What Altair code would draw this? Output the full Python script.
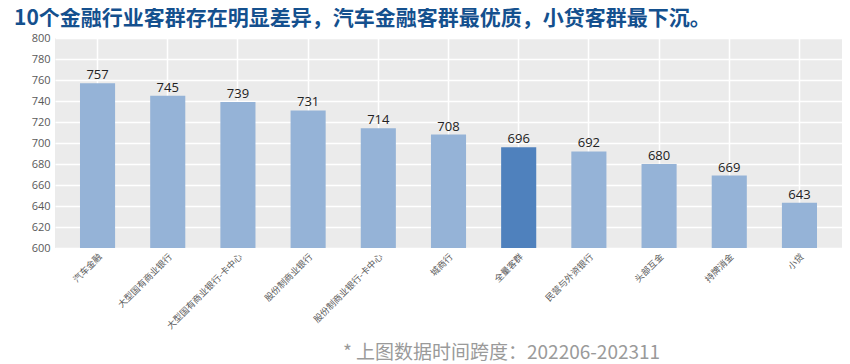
import altair as alt
import pandas as pd

categories = ["汽车金融", "大型国有商业银行", "大型国有商业银行-卡中心", "股份制商业银行",
              "股份制商业银行-卡中心", "城商行", "全量客群", "民营与外资银行",
              "头部互金", "持牌消金", "小贷"]
values = [757, 745, 739, 731, 714, 708, 696, 692, 680, 669, 643]
highlight = ["全量客群"]
y_ticks = [600, 620, 640, 660, 680, 700, 720, 740, 760, 780, 800]
title_text = "10个金融行业客群存在明显差异，汽车金融客群最优质，小贷客群最下沉。"
footer_text = "* 上图数据时间跨度：202206-202311"

df = pd.DataFrame({"cat": categories, "val": values,
                   "hl": ["yes" if c in highlight else "no" for c in categories]})

x_axis = alt.Axis(title=footer_text, labelAngle=-45, labelFontSize=9,
                  labelFont="Noto Sans CJK SC", labelColor="#595959",
                  labelPadding=4, domain=False, ticks=False, labelOverlap=False,
                  grid=True, bandPosition=0.5, gridColor="white", gridWidth=1.5,
                  titleX=446, titleY=104, titleAlign="center",
                  titleBaseline="middle", titleFontSize=19,
                  titleFont="Noto Sans CJK SC", titleFontWeight="normal",
                  titleColor="#9a9a9a")
x_scale = alt.Scale(paddingInner=0.5, paddingOuter=0.356)

y_axis = alt.Axis(title=None, values=y_ticks, labelFontSize=11,
                  labelFont="Open Sans", labelColor="#595959", labelPadding=5,
                  labelOverlap=False, domain=False, ticks=False,
                  gridColor="white", gridWidth=1.5)
y_scale = alt.Scale(domain=[600, 800], zero=False, nice=False)

bars = alt.Chart(df).mark_bar(clip=True).encode(
    x=alt.X("cat:N", sort=categories, scale=x_scale, axis=x_axis),
    y=alt.Y("val:Q", scale=y_scale, axis=y_axis),
    y2=alt.datum(600),
    color=alt.Color("hl:N", scale=alt.Scale(domain=["no", "yes"], range=["#95B3D7", "#4F81BD"]),
                    legend=None),
)

labels = alt.Chart(df).mark_text(dy=-8, fontSize=13, font="Open Sans", color="#222222").encode(
    x=alt.X("cat:N", sort=categories, scale=x_scale, axis=x_axis),
    y=alt.Y("val:Q", scale=y_scale, axis=y_axis),
    text=alt.Text("val:Q"),
)

chart = (bars + labels).properties(
    width=787, height=210,
    autosize=alt.AutoSizeParams(type="none"),
    padding={"left": 47, "top": 30, "right": 0, "bottom": 116},
    title=alt.TitleParams(title_text, anchor="start", frame="group", dx=-41, offset=3,
                          fontSize=21, font="Noto Sans CJK SC", fontWeight="bold",
                          color="#14508E"),
).configure_view(fill="#EBEBEB", stroke=None)

chart.save("out.html", embed_options={"renderer": "svg", "actions": False})
